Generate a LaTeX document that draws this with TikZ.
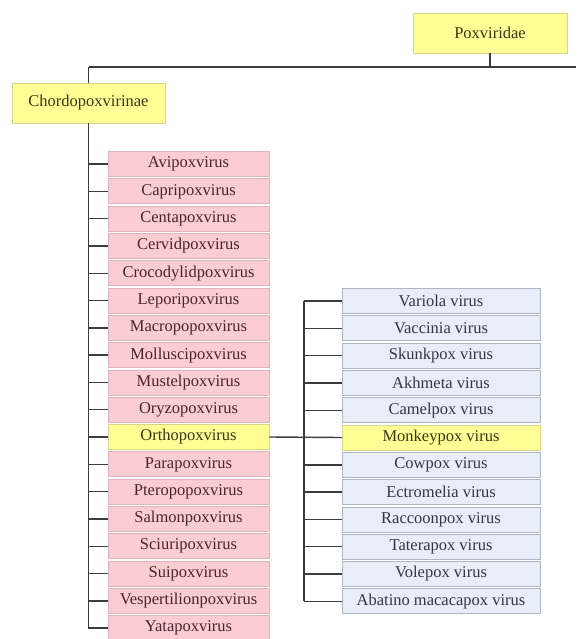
\documentclass[tikz,border=0pt]{standalone}
\usepackage{fontspec}
\setmainfont{Liberation Serif}
\begin{document}
\begin{tikzpicture}[x=1pt,y=-1pt,
  font=\fontsize{16.5}{18}\selectfont,
  box/.style={draw, line width=0.8pt, inner sep=0pt, minimum height=25pt},
  yellowbox/.style={box, fill=ylwfill, draw=ylwline, text=ylwtext},
  genusbox/.style={box, fill=pinkfill, draw=pinkline, text=pinktext, minimum width=161pt},
  speciesbox/.style={box, fill=bluefill, draw=blueline, text=bluetext, minimum width=198pt},
  link/.style={draw=linkcol, line width=1.4pt}]
\definecolor{ylwfill}{RGB}{255,255,150}
\definecolor{ylwline}{RGB}{215,215,140}
\definecolor{ylwtext}{RGB}{55,55,20}
\definecolor{pinkfill}{RGB}{250,205,210}
\definecolor{pinkline}{RGB}{225,180,185}
\definecolor{pinktext}{RGB}{75,35,40}
\definecolor{bluefill}{RGB}{232,237,247}
\definecolor{blueline}{RGB}{175,182,195}
\definecolor{bluetext}{RGB}{50,55,65}
\definecolor{linkcol}{RGB}{60,60,60}
\useasboundingbox (0,0) rectangle (576,639);
\clip (0,0) rectangle (576,639);

% family and subfamily
\node[yellowbox, minimum width=154pt, minimum height=40pt] (pox) at (490,33) {Poxviridae};
\node[yellowbox, minimum width=153pt, minimum height=40pt] (chordo) at (88.5,103) {Chordopoxvirinae};
\coordinate (toprail) at (88.5,67);
\coordinate (railend) at (576,67);

% genera
\foreach \g [count=\i from 0] in {Avipoxvirus,Capripoxvirus,Centapoxvirus,Cervidpoxvirus,Crocodylidpoxvirus,Leporipoxvirus,Macropopoxvirus,Molluscipoxvirus,Mustelpoxvirus,Oryzopoxvirus,Orthopoxvirus,Parapoxvirus,Pteropopoxvirus,Salmonpoxvirus,Sciuripoxvirus,Suipoxvirus,Vespertilionpoxvirus,Yatapoxvirus}{
  \node[genusbox] (g\i) at (188.5,{164+27.3*\i}) {\g};
}
% Orthopoxvirus highlighted
\node[genusbox, fill=ylwfill, draw=ylwline, text=ylwtext] (g10) at (188.5,{164+27.3*10}) {Orthopoxvirus};

% species of Orthopoxvirus
\foreach \s [count=\j from 0] in {Variola virus,Vaccinia virus,Skunkpox virus,Akhmeta virus,Camelpox virus,Monkeypox virus,Cowpox virus,Ectromelia virus,Raccoonpox virus,Taterapox virus,Volepox virus,Abatino macacapox virus}{
  \node[speciesbox] (s\j) at (441,{301+27.3*\j}) {\s};
}
\node[speciesbox, fill=ylwfill, draw=ylwline, text=ylwtext] (s5) at (441,{301+27.3*5}) {Monkeypox virus};
\coordinate (sbus) at (304,0);

% connectors
\path[link] (pox.south) -- (pox.south |- railend);
\path[link] (toprail) -- (railend);
\path[link] (toprail) -- (chordo.north);
\path[link] (chordo.south) -- (chordo.south |- g17.west) -- (g17.west);
\foreach \i in {0,...,16}{
  \path[link] (chordo.south |- g\i.west) -- (g\i.west);
}
\path[link] (g10.east) -- (s5.west);
\path[link] (sbus |- s0.west) -- (sbus |- s11.west);
\foreach \j in {0,...,11}{
  \path[link] (sbus |- s\j.west) -- (s\j.west);
}
\end{tikzpicture}
\end{document}
